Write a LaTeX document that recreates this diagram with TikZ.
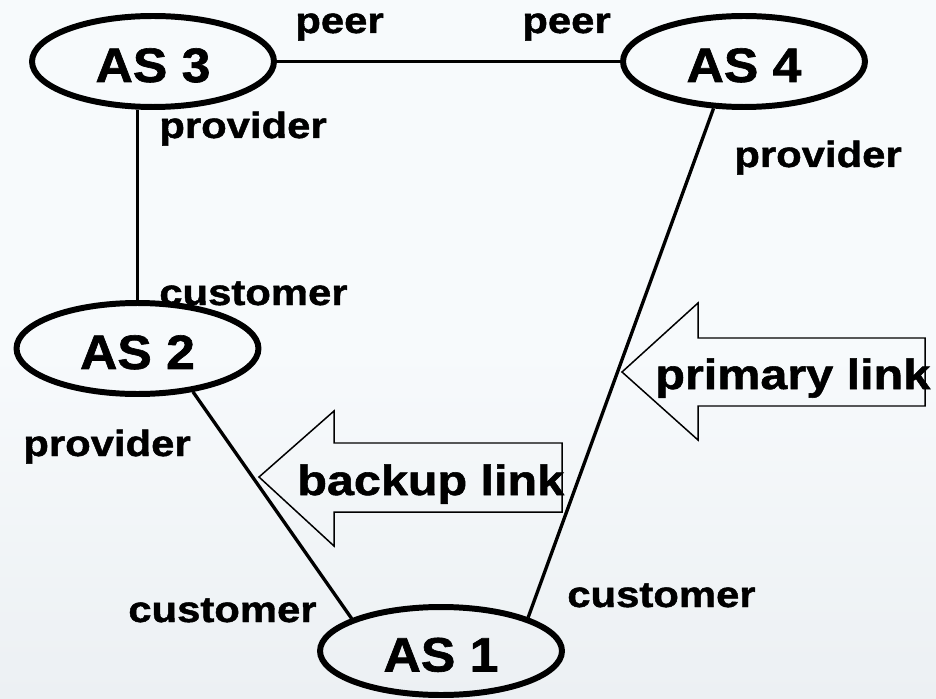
\documentclass[tikz,border=0pt]{standalone}
\usepackage{fontspec}
\setmainfont{Liberation Sans}[FakeStretch=1.15, BoldFeatures={FakeBold=1.3}]
\newfontfamily\asfont{Liberation Sans}[FakeStretch=1.07, BoldFeatures={FakeBold=1.3}]
\usepackage{tikz}
\usetikzlibrary{shapes}
\usetikzlibrary{shapes.geometric}
\usetikzlibrary{positioning}

\definecolor{slidebg}{RGB}{247,250,252}
\definecolor{slidebgdark}{RGB}{236,240,243}

\tikzset{
  asnode/.style={draw, ellipse, line width=3.4pt, inner sep=0pt,
    minimum width=4.84cm, minimum height=1.82cm,
    text height=0.82cm, text depth=0pt,
    font=\asfont\fontsize{27.5}{30}\selectfont\bfseries},
  role/.style={inner sep=0pt, anchor=base west,
    font=\fontsize{20.7}{24}\selectfont\bfseries},
  linkname/.style={inner sep=0pt, anchor=base west,
    font=\fontsize{24}{28}\selectfont\bfseries},
  link/.style={line width=1.9pt},
  blockarrow/.style={line width=0.85pt, line join=miter}
}

\begin{document}
\begin{tikzpicture}[x=0.02cm, y=-0.02cm]
  \shade[top color=slidebg, bottom color=slidebgdark, middle color=slidebg]
    (0, 0) rectangle (936, 699);
  \path[use as bounding box] (0, 0) rectangle (936, 699);

%%%%%%%%%%%% AS boxes
  \node[asnode] at (153, 61.5) (as3) {AS 3};
  \node[asnode] at (744, 61.5) (as4) {AS 4};
  \node[asnode] at (137.5, 348.5) (as2) {AS 2};
  \node[asnode, minimum height=1.76cm] at (441, 651) (as1) {AS 1};

%%%%%%%%%%%% links
  \draw[link] (as3) -- (as4);
  \draw[link] (as2.north) -- (as2.north |- as3.south);
  \draw[link] (as2.-38) -- (as1.160);
  \draw[link] (as4.-123) -- (as1.21);

%%%%%%%%%%%% roles at the ends
  \node[role] at (295, 33) (peer3) {peer};
  \node[role] at (522, 33) (peer4) {peer};
  \node[role] at (159, 138) (prov3) {provider};
  \node[role] at (734, 167) (prov4) {provider};
  \node[role] at (159, 305) (cust2) {customer};
  \node[role] at (23, 456) (prov2) {provider};
  \node[role] at (128, 622) (cust1l) {customer};
  \node[role] at (567, 607) (cust1r) {customer};

%%%%%%%%%%%% block arrows
  \draw[blockarrow] (562, 443) -- (334, 443) -- (334, 411) -- (259, 477)
    -- (334, 546) -- (334, 512) -- (562, 512) -- cycle;
  \node[linkname] at (297, 495) (backup) {backup link};

  \draw[blockarrow] (925, 338) -- (698, 338) -- (698, 303) -- (622, 372)
    -- (698, 440) -- (698, 406) -- (925, 406) -- cycle;
  \node[linkname] at (655, 389) (primary) {primary link};
\end{tikzpicture}
\end{document}
